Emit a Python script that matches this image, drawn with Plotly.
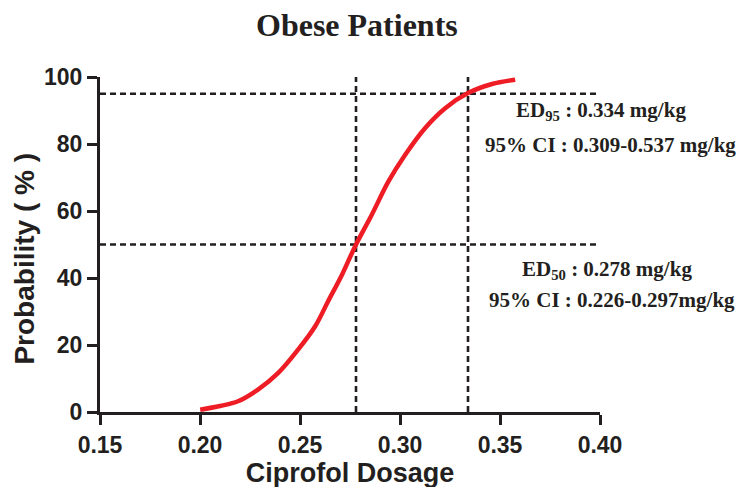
import plotly.graph_objects as go

# Dose-response curve
dose = [0.2001, 0.210, 0.219, 0.229, 0.239, 0.249, 0.2576, 0.264, 0.271, 0.2776,
        0.2859, 0.2943, 0.3026, 0.3126, 0.3226, 0.334, 0.346, 0.3576]
prob = [0.7, 1.8, 3.2, 6.7, 11.6, 18.6, 25.6, 33.0, 41.0, 49.5,
        58.9, 68.9, 76.8, 84.8, 90.7, 95.2, 97.9, 99.2]

ed50 = 0.278
ed95 = 0.334
p50 = 50
p95 = 95

x_ticks = [0.15, 0.20, 0.25, 0.30, 0.35, 0.40]
y_ticks = [0, 20, 40, 60, 80, 100]

title_text = "Obese Patients"
x_title = "Ciprofol Dosage"
y_title = "Probability ( % )"
ann_ed95 = ["ED<sub>95</sub> : 0.334 mg/kg", "95% CI : 0.309-0.537 mg/kg"]
ann_ed50 = ["ED<sub>50</sub> : 0.278 mg/kg", "95% CI : 0.226-0.297mg/kg"]

INK = "#231f20"
SERIF = "Liberation Serif"
SANS = "Liberation Sans"

W, H = 750, 487
L, R, T, B = 91.5, 158, 69, 83
PW, PH = W - L - R, H - T - B


def px_x(X):
    return (X - L) / PW


def px_y(Y):
    return (H - B - Y) / PH


fig = go.Figure()

dash_style = dict(color=INK, width=2.6, dash="6px,4px")
for p in (p95, p50):
    fig.add_trace(go.Scatter(x=[x_ticks[0], x_ticks[-1]], y=[p, p], mode="lines",
                             line=dash_style, hoverinfo="skip", showlegend=False))
for d in (ed50, ed95):
    fig.add_trace(go.Scatter(x=[d, d], y=[0, y_ticks[-1]], mode="lines",
                             line=dash_style, hoverinfo="skip", showlegend=False))

fig.add_trace(go.Scatter(x=dose, y=prob, mode="lines",
                         line=dict(color="#ee1c24", width=4.5, shape="spline"),
                         showlegend=False))

axis_common = dict(showgrid=False, zeroline=False, showline=True, linecolor=INK,
                   linewidth=3, ticks="outside", ticklen=10, tickwidth=3, tickcolor=INK,
                   tickfont=dict(family=SANS, size=23, color=INK, weight="bold"))

fig.update_xaxes(range=[0.15, 0.40], tickvals=x_ticks, tickformat=".2f",
                 title=dict(text=x_title, font=dict(family=SANS, size=27, color=INK, weight="bold"),
                            standoff=6),
                 **axis_common)
fig.update_yaxes(range=[0, 100], tickvals=y_ticks, **axis_common)

fig.add_annotation(x=px_x(15), y=px_y(251), xref="paper", yref="paper", text=y_title,
                   textangle=-90, showarrow=False, xanchor="center", yanchor="middle",
                   font=dict(family=SANS, size=28, color=INK, weight="bold"))

# chart title as a paper annotation
fig.add_annotation(x=px_x(349), y=px_y(17), xref="paper", yref="paper", text=title_text,
                   showarrow=False, xanchor="center", yanchor="middle",
                   font=dict(family=SERIF, size=32, color=INK, weight="bold"))

ann_font = dict(family=SERIF, size=21, color=INK, weight="bold")
# (text, left x pixel, y pixel)
anns = [
    (ann_ed95[0], 506, 103),
    (ann_ed95[1], 475, 137),
    (ann_ed50[0], 512, 262),
    (ann_ed50[1], 479, 292),
]
for txt, X, Y in anns:
    fig.add_annotation(x=px_x(X), y=px_y(Y), xref="paper", yref="paper", text=txt,
                       showarrow=False, font=ann_font, xanchor="left", yanchor="middle")

fig.update_layout(
    width=W, height=H,
    margin=dict(l=L, r=R, t=T, b=B),
    paper_bgcolor="white", plot_bgcolor="white",
)

fig.write_html("out.html")
